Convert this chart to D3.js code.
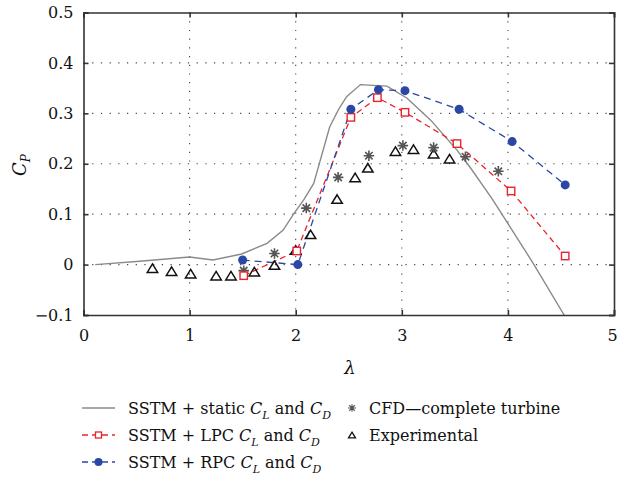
<!DOCTYPE html>
<html>
<head>
<meta charset="utf-8">
<script src="https://cdn.jsdelivr.net/npm/d3@7"></script>
<style>
  body { margin: 0; background: #fff; }
</style>
</head>
<body>
<div id="chart"></div>
<script>
// DATA
const staticLambda = [0.11, 0.5, 1.0, 1.22, 1.49, 1.73, 1.88, 1.98, 2.08, 2.17, 2.32, 2.41, 2.48, 2.61, 2.86, 3.05, 3.27, 3.52, 3.64, 3.85, 4.02, 4.24, 4.53];
const staticCp     = [0.0, 0.006, 0.015, 0.009, 0.021, 0.042, 0.068, 0.10, 0.13, 0.161, 0.273, 0.31, 0.333, 0.357, 0.354, 0.33, 0.287, 0.227, 0.194, 0.131, 0.075, 0.002, -0.1];

const lpcLambda = [1.51, 2.01, 2.52, 2.77, 3.03, 3.52, 4.03, 4.54];
const lpcCp     = [-0.022, 0.027, 0.292, 0.331, 0.302, 0.240, 0.146, 0.017];

const rpcLambda = [1.50, 2.02, 2.52, 2.78, 3.03, 3.54, 4.04, 4.54];
const rpcCp     = [0.009, 0.0, 0.308, 0.347, 0.345, 0.308, 0.244, 0.158];

const cfdLambda = [1.51, 1.80, 2.10, 2.40, 2.69, 3.01, 3.30, 3.60, 3.91];
const cfdCp     = [-0.012, 0.022, 0.112, 0.173, 0.216, 0.236, 0.232, 0.214, 0.185];

const expLambda = [0.65, 0.83, 1.01, 1.25, 1.39, 1.61, 1.80, 2.00, 2.14, 2.39, 2.56, 2.68, 2.94, 3.11, 3.30, 3.45];
const expCp     = [-0.007, -0.013, -0.018, -0.022, -0.022, -0.014, -0.001, 0.029, 0.060, 0.130, 0.173, 0.192, 0.225, 0.229, 0.220, 0.210];

const xTicks = [0, 1, 2, 3, 4, 5];
const yTicks = [-0.1, 0, 0.1, 0.2, 0.3, 0.4, 0.5];

const RED = "#e8242c", BLUE = "#2b47a6", GRAY = "#8a8a8a", AXIS = "#333";
const SERIF = "DejaVu Serif";

// SETUP
const W = 618, H = 480;
const margin = { top: 12.5, right: 4, bottom: 165, left: 83.5 };

const svg = d3.select("#chart").append("svg")
    .attr("width", W).attr("height", H)
    .style("font-family", SERIF);

const x = d3.scaleLinear().domain([0, 5]).range([margin.left, W - margin.right]);
const y = d3.scaleLinear().domain([-0.1, 0.5]).range([H - margin.bottom, margin.top]);

const zip = (a, b) => a.map((v, i) => [v, b[i]]);

// grid
const grid = svg.append("g").attr("stroke", "#444").attr("stroke-width", 1.1)
    .attr("stroke-dasharray", "1.2,7.5");
grid.selectAll(".gx").data(xTicks.slice(1, -1)).enter().append("line")
    .attr("x1", d => x(d)).attr("x2", d => x(d))
    .attr("y1", y(0.5)).attr("y2", y(-0.1));
grid.selectAll(".gy").data(yTicks.slice(1, -1)).enter().append("line")
    .attr("x1", x(0)).attr("x2", x(5))
    .attr("y1", d => y(d)).attr("y2", d => y(d));

// clip
svg.append("clipPath").attr("id", "clip").append("rect")
    .attr("x", x(0)).attr("y", y(0.5))
    .attr("width", x(5) - x(0)).attr("height", y(-0.1) - y(0.5));

const plot = svg.append("g").attr("clip-path", "url(#clip)");
const line = d3.line().x(d => x(d[0])).y(d => y(d[1]));

plot.append("path").datum(zip(staticLambda, staticCp))
    .attr("d", line).attr("fill", "none").attr("stroke", GRAY).attr("stroke-width", 1.4);

plot.append("path").datum(zip(lpcLambda, lpcCp))
    .attr("d", line).attr("fill", "none").attr("stroke", RED).attr("stroke-width", 1.3)
    .attr("stroke-dasharray", "6,4");

plot.append("path").datum(zip(rpcLambda, rpcCp))
    .attr("d", line).attr("fill", "none").attr("stroke", BLUE).attr("stroke-width", 1.3)
    .attr("stroke-dasharray", "7,5");

// custom asterisk: + and x
const star8 = {
    draw(ctx, size) {
        const r = Math.sqrt(size) / 2, k = r * Math.SQRT1_2;
        ctx.moveTo(-r, 0); ctx.lineTo(r, 0);
        ctx.moveTo(0, -r); ctx.lineTo(0, r);
        ctx.moveTo(-k, -k); ctx.lineTo(k, k);
        ctx.moveTo(-k, k); ctx.lineTo(k, -k);
    }
};
const tri = {
    draw(ctx, size) {
        const s = Math.sqrt(size);
        ctx.moveTo(0, -s * 0.45); ctx.lineTo(s * 0.55, s * 0.45);
        ctx.lineTo(-s * 0.55, s * 0.45); ctx.closePath();
    }
};

plot.selectAll(".exp").data(zip(expLambda, expCp)).enter().append("path")
    .attr("transform", d => `translate(${x(d[0])},${y(d[1])})`)
    .attr("d", d3.symbol(tri, 90)).attr("fill", "none").attr("stroke", "#111").attr("stroke-width", 1.5);

plot.selectAll(".cfd").data(zip(cfdLambda, cfdCp)).enter().append("path")
    .attr("transform", d => `translate(${x(d[0])},${y(d[1])})`)
    .attr("d", d3.symbol(star8, 110)).attr("fill", "none").attr("stroke", "#555").attr("stroke-width", 1.6);

plot.selectAll(".lpc").data(zip(lpcLambda, lpcCp)).enter().append("rect")
    .attr("x", d => x(d[0]) - 3.7).attr("y", d => y(d[1]) - 3.7)
    .attr("width", 7.4).attr("height", 7.4)
    .attr("fill", "#fff").attr("stroke", RED).attr("stroke-width", 1.4);

plot.selectAll(".rpc").data(zip(rpcLambda, rpcCp)).enter().append("circle")
    .attr("cx", d => x(d[0])).attr("cy", d => y(d[1])).attr("r", 4.5)
    .attr("fill", BLUE);

// AXES (box with inward ticks)
const fmt = d => d < 0 ? "\u2212" + Math.abs(d) : String(d);
const axB = svg.append("g").attr("transform", `translate(0,${y(-0.1)})`)
    .call(d3.axisBottom(x).tickValues(xTicks).tickSize(-5).tickPadding(15).tickFormat(d3.format("d")));
const axL = svg.append("g").attr("transform", `translate(${x(0)},0)`)
    .call(d3.axisLeft(y).tickValues(yTicks).tickSize(-5).tickPadding(10).tickFormat(fmt));
const axT = svg.append("g").attr("transform", `translate(0,${y(0.5)})`)
    .call(d3.axisTop(x).tickValues(xTicks).tickSize(-5).tickFormat(""));
const axR = svg.append("g").attr("transform", `translate(${x(5)},0)`)
    .call(d3.axisRight(y).tickValues(yTicks).tickSize(-5).tickFormat(""));

[axB, axL, axT, axR].forEach(a => {
    a.attr("font-family", null);
    a.selectAll("path, line").attr("stroke", AXIS).attr("stroke-width", 1.6);
    a.selectAll("text").attr("font-size", 16).attr("fill", "#111").style("font-family", SERIF);
});
// keep the last x label inside the page
axB.selectAll(".tick text").filter(d => d === 5).attr("dx", -2);

// axis labels
svg.append("text").attr("x", 350).attr("y", 374).attr("text-anchor", "middle")
    .attr("font-size", 18).attr("font-style", "italic").attr("fill", "#111").text("λ");

const yl = svg.append("text").attr("transform", "translate(26,165) rotate(-90)")
    .attr("text-anchor", "middle").attr("font-size", 18).attr("fill", "#111");
yl.append("tspan").attr("font-style", "italic").text("C");
yl.append("tspan").attr("font-style", "italic").attr("font-size", 12).attr("dy", 4).text("P");

// LEGEND
const legFont = 16;
function labelCLCD(g, pre) {
    const t = g.append("text").attr("x", 0).attr("y", 0).attr("font-size", legFont).attr("fill", "#111");
    t.append("tspan").text(pre);
    t.append("tspan").attr("font-style", "italic").text("C");
    t.append("tspan").attr("font-style", "italic").attr("font-size", 11).attr("dy", 5).text("L");
    t.append("tspan").attr("dy", -5).text(" and ");
    t.append("tspan").attr("font-style", "italic").text("C");
    t.append("tspan").attr("font-style", "italic").attr("font-size", 11).attr("dy", 5).text("D");
}

const legRows = [414, 441, 468];
const lx0 = 82, lx1 = 115, ltx = 128;

// row 1 static
let g = svg.append("g");
g.append("line").attr("x1", lx0).attr("x2", lx1).attr("y1", legRows[0] - 6).attr("y2", legRows[0] - 6)
    .attr("stroke", GRAY).attr("stroke-width", 1.4);
labelCLCD(svg.append("g").attr("transform", `translate(${ltx},${legRows[0]})`), "SSTM + static ");

// row 2 LPC
g = svg.append("g");
g.append("line").attr("x1", lx0).attr("x2", lx1).attr("y1", legRows[1] - 6).attr("y2", legRows[1] - 6)
    .attr("stroke", RED).attr("stroke-width", 1.3).attr("stroke-dasharray", "6,4");
g.append("rect").attr("x", (lx0 + lx1) / 2 - 3).attr("y", legRows[1] - 9).attr("width", 6).attr("height", 6)
    .attr("fill", "#fff").attr("stroke", RED).attr("stroke-width", 1.3);
labelCLCD(svg.append("g").attr("transform", `translate(${ltx},${legRows[1]})`), "SSTM + LPC ");

// row 3 RPC
g = svg.append("g");
g.append("line").attr("x1", lx0).attr("x2", lx1).attr("y1", legRows[2] - 6).attr("y2", legRows[2] - 6)
    .attr("stroke", BLUE).attr("stroke-width", 1.3).attr("stroke-dasharray", "6,4");
g.append("circle").attr("cx", (lx0 + lx1) / 2).attr("cy", legRows[2] - 6).attr("r", 4).attr("fill", BLUE);
labelCLCD(svg.append("g").attr("transform", `translate(${ltx},${legRows[2]})`), "SSTM + RPC ");

// column 2
svg.append("path").attr("transform", `translate(352,${legRows[0] - 6})`)
    .attr("d", d3.symbol(star8, 60)).attr("fill", "none").attr("stroke", "#555").attr("stroke-width", 1.1);
svg.append("text").attr("x", 369).attr("y", legRows[0]).attr("font-size", legFont).attr("fill", "#111")
    .text("CFD\u2014complete turbine");
svg.append("path").attr("transform", `translate(352,${legRows[1] - 6})`)
    .attr("d", d3.symbol(tri, 40)).attr("fill", "none").attr("stroke", "#111").attr("stroke-width", 1.3);
svg.append("text").attr("x", 369).attr("y", legRows[1]).attr("font-size", legFont).attr("fill", "#111")
    .text("Experimental");
</script>
</body>
</html>
